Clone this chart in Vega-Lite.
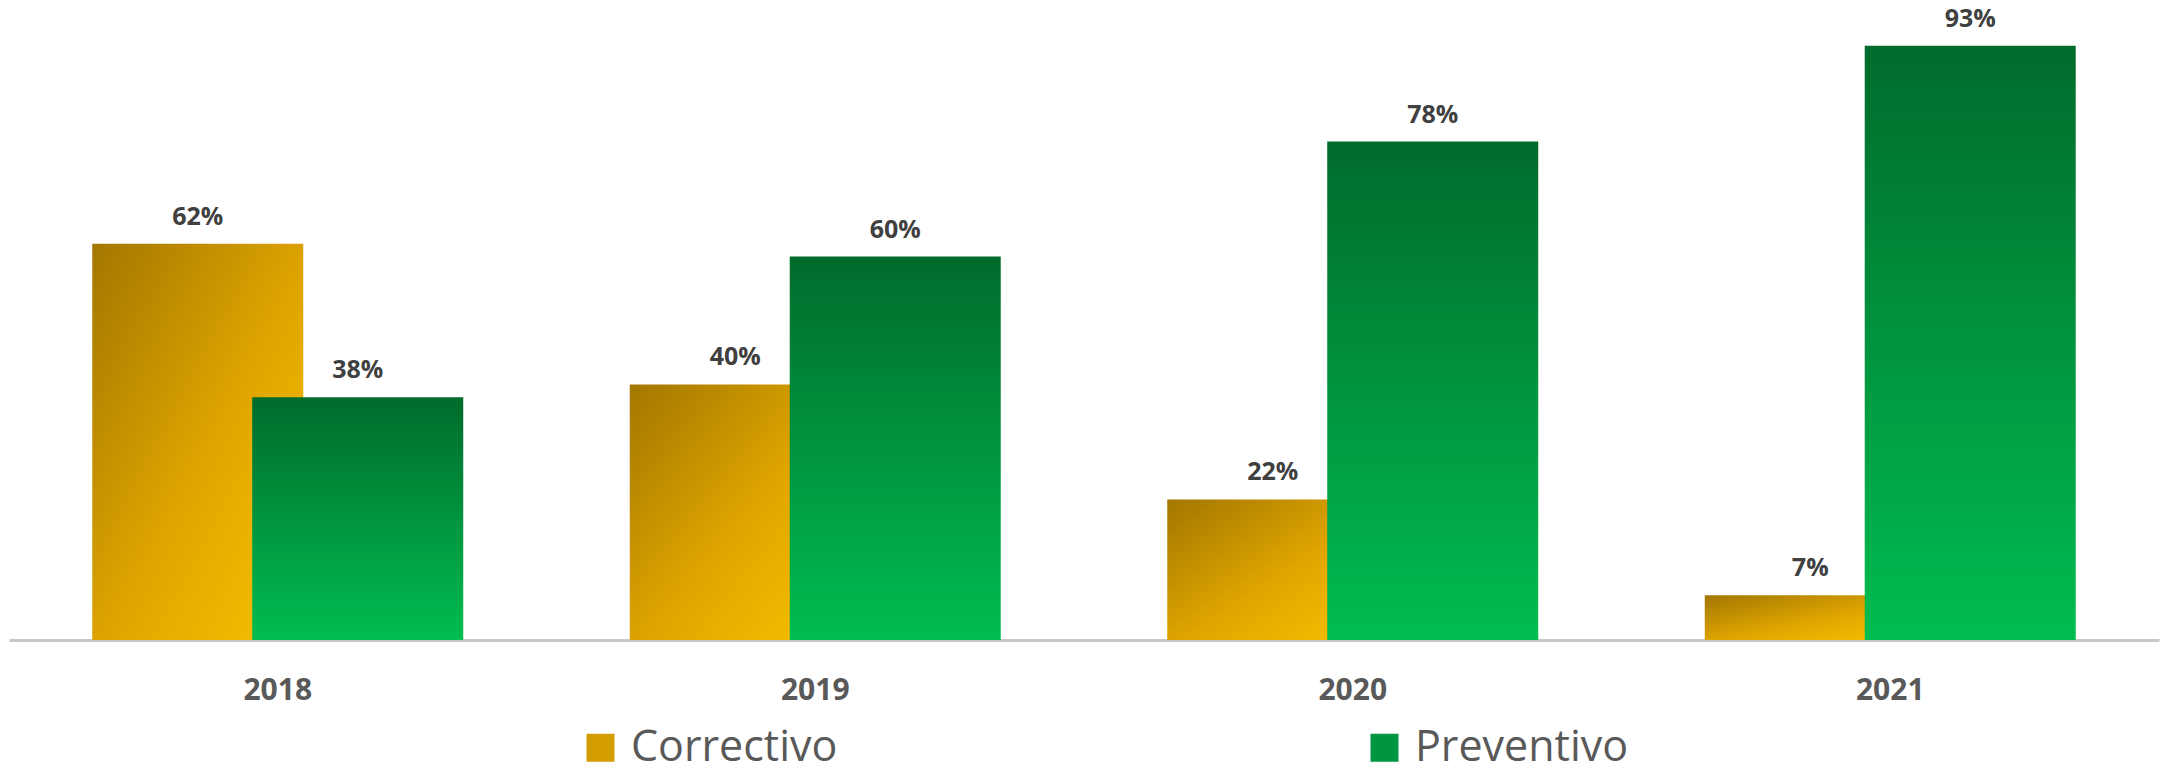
{
  "$schema": "https://vega.github.io/schema/vega-lite/v6.json",
  "autosize": {"type": "none"},
  "width": 2150,
  "height": 639,
  "padding": {"left": 9, "top": 1, "right": 6, "bottom": 133},
  "background": "white",
  "config": {"view": {"stroke": null}, "font": "Open Sans"},
  "data": {
    "values": [
      {"year": "2018", "serie": "Correctivo", "value": 0.62},
      {"year": "2018", "serie": "Preventivo", "value": 0.38},
      {"year": "2019", "serie": "Correctivo", "value": 0.40},
      {"year": "2019", "serie": "Preventivo", "value": 0.60},
      {"year": "2020", "serie": "Correctivo", "value": 0.22},
      {"year": "2020", "serie": "Preventivo", "value": 0.78},
      {"year": "2021", "serie": "Correctivo", "value": 0.07},
      {"year": "2021", "serie": "Preventivo", "value": 0.93}
    ]
  },
  "encoding": {
    "x": {
      "field": "year",
      "type": "nominal",
      "scale": {"paddingInner": 0, "paddingOuter": 0},
      "axis": {
        "title": null,
        "ticks": false,
        "labelAngle": 0,
        "labelFontSize": 30,
        "labelFontWeight": "bold",
        "labelColor": "#595959",
        "labelFont": "Open Sans",
        "labelPadding": 35,
        "domainColor": "#c8c8c8",
        "domainWidth": 3,
        "grid": false
      }
    },
    "xOffset": {
      "field": "serie",
      "type": "nominal",
      "scale": {"paddingInner": 0, "paddingOuter": 0.68}
    },
    "y": {
      "field": "value",
      "type": "quantitative",
      "scale": {"domain": [0, 1]},
      "axis": null
    }
  },
  "layer": [
    {
      "mark": {"type": "bar", "width": 211},
      "encoding": {
        "fill": {
          "condition": {
            "test": "datum.serie === 'Correctivo'",
            "value": {"gradient": "linear", "x1": 0, "y1": 0, "x2": 1, "y2": 1, "stops": [{"offset": 0, "color": "#a37700"}, {"offset": 0.55, "color": "#e0a600"}, {"offset": 1, "color": "#fac100"}]}
          },
          "value": {"gradient": "linear", "x1": 0, "y1": 0, "x2": 0, "y2": 1, "stops": [{"offset": 0, "color": "#006b2c"}, {"offset": 1, "color": "#00bd50"}]}
        }
      }
    },
    {
      "mark": {"type": "square", "size": 0, "filled": true, "opacity": 1},
      "encoding": {
        "color": {
          "field": "serie",
          "type": "nominal",
          "scale": {"domain": ["Correctivo", "Preventivo"], "range": ["#d39c00", "#009541"]},
          "legend": {
            "title": null,
            "orient": "none",
            "legendX": 570,
            "legendY": 725,
            "direction": "horizontal",
            "columns": 2,
            "symbolType": "square",
            "symbolSize": 784,
            "symbolStrokeWidth": 0,
            "symbolOpacity": 1,
            "labelFontSize": 43,
            "labelFont": "Open Sans",
            "labelColor": "#595959",
            "labelOffset": 9,
            "labelLimit": 0,
            "columnPadding": 525,
            "padding": 0
          }
        }
      }
    },
    {
      "mark": {"type": "text", "baseline": "alphabetic", "dy": -19, "fontSize": 25, "fontWeight": "bold", "color": "#404040", "font": "Open Sans"},
      "encoding": {
        "text": {"field": "value", "type": "quantitative", "format": ".0%"}
      }
    }
  ]
}
